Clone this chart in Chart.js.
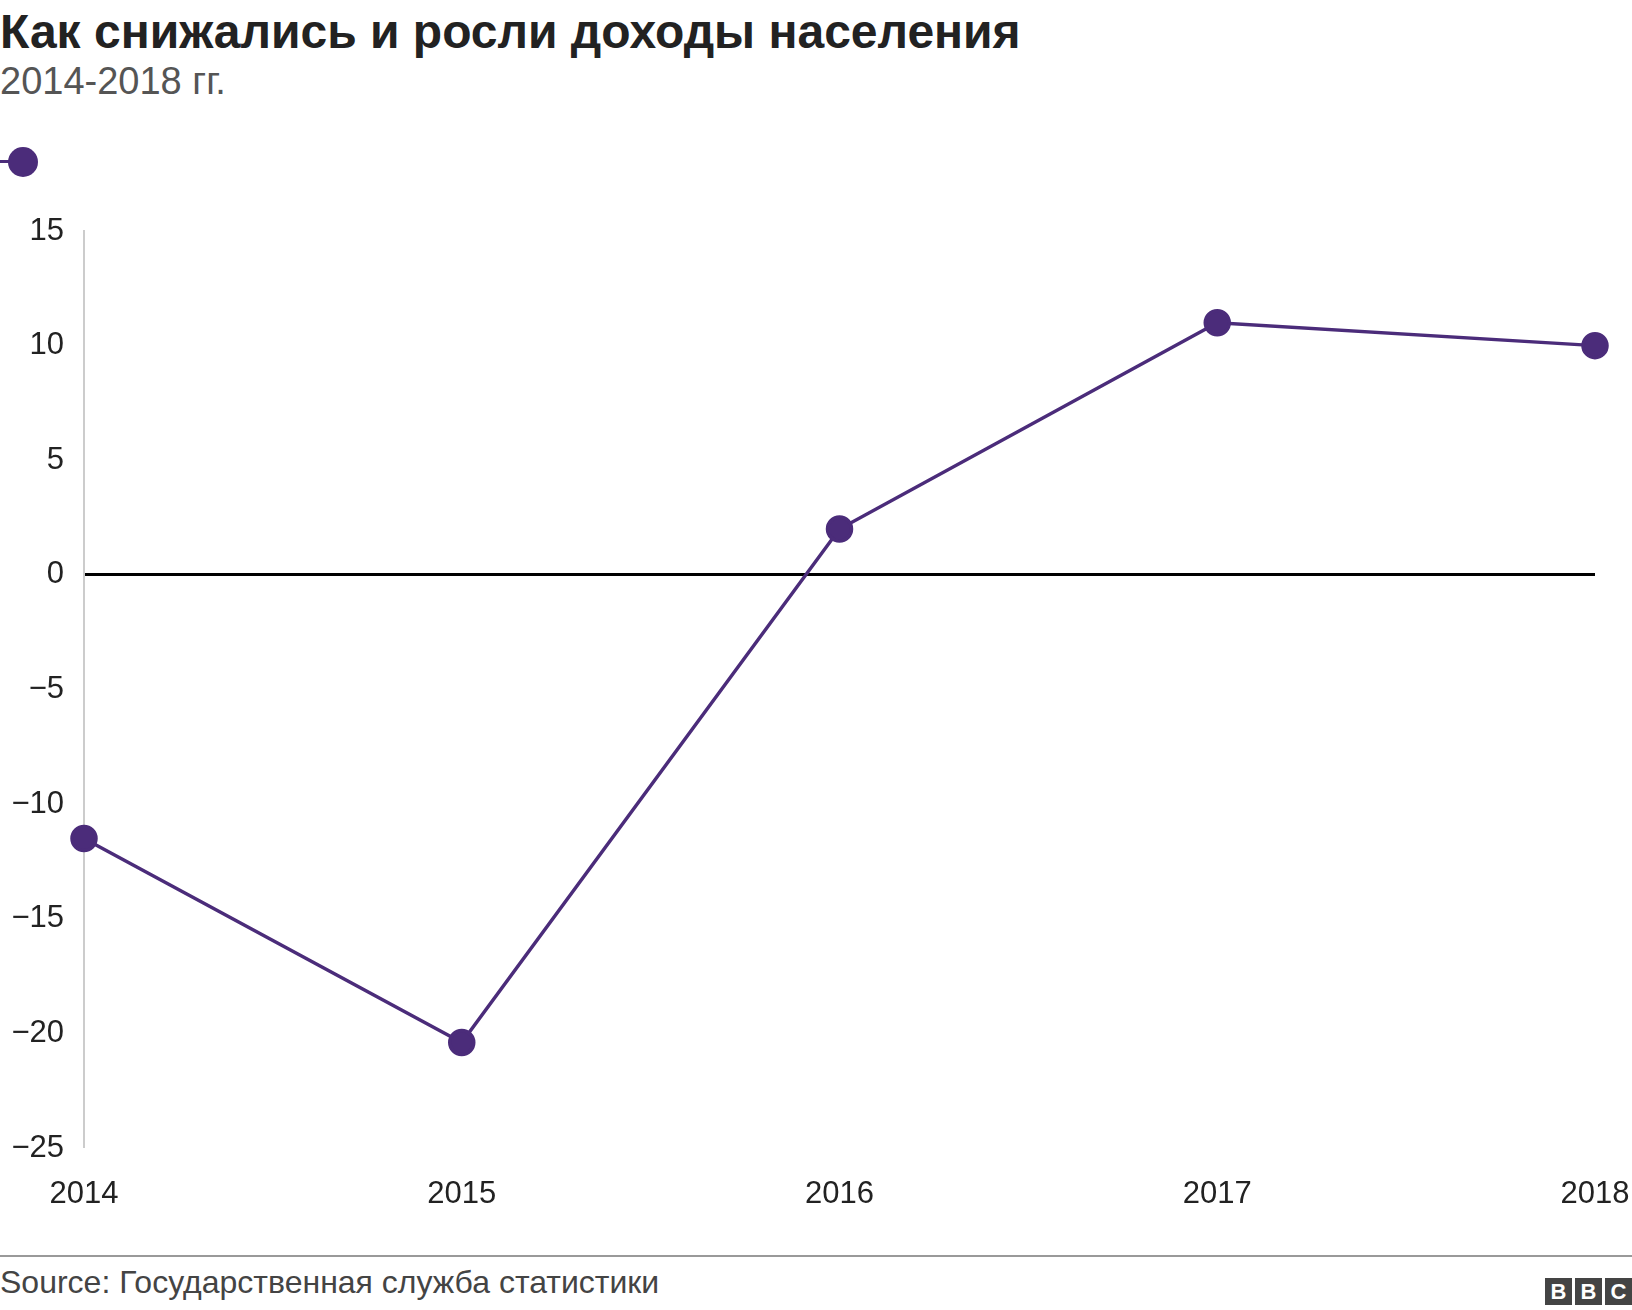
<!DOCTYPE html>
<html>
<head>
<meta charset="utf-8">
<script src="https://cdn.jsdelivr.net/npm/chart.js@4"></script>
<style>
  body { margin: 0; width: 1632px; height: 1310px; background: #fff; font-family: "Liberation Sans", Arial, sans-serif; position: relative; overflow: hidden; }
  #title { position: absolute; left: 0; top: 4px; font-size: 48px; font-weight: bold; color: #222; }
  #sub { position: absolute; left: 0; top: 60px; font-size: 38px; color: #555; }
  #legend { position: absolute; left: 0; top: 146px; width: 40px; height: 30px; }
  #legend .ln { position: absolute; left: 0; top: 14px; width: 20px; height: 3px; background: #4b2c7a; }
  #legend .dot { position: absolute; left: 8px; top: 1px; width: 30px; height: 30px; border-radius: 50%; background: #4b2c7a; }
  #foot { position: absolute; left: 0; right: 0; top: 1255px; border-top: 2px solid #999; }
  #src { position: absolute; left: 0; top: 1264px; font-size: 32px; color: #444; }
  #bbc { position: absolute; right: 0; top: 1278px; display: flex; gap: 3px; }
  #bbc span { width: 27px; height: 27px; background: #444; color: #fff; font-weight: bold; font-size: 22px; text-align: center; line-height: 27px; }
  canvas { position: absolute; left: 0; top: 0; }
</style>
</head>
<body>
<div id="title">Как снижались и росли доходы населения</div>
<div id="sub">2014-2018 гг.</div>
<div id="legend"><div class="ln"></div><div class="dot"></div></div>
<div id="foot"></div>
<div id="src">Source: Государственная служба статистики</div>
<div id="bbc"><span>B</span><span>B</span><span>C</span></div>
<canvas id="chart" width="1632" height="1310"></canvas>
<script>
const years = ['2014', '2015', '2016', '2017', '2018'];
const incomeChange = [-11.5, -20.4, 2.0, 11.0, 10.0];
const yTicks = [15, 10, 5, 0, -5, -10, -15, -20, -25];

const purple = '#4b2c7a';

new Chart(document.getElementById('chart'), {
  type: 'line',
  data: {
    labels: years,
    datasets: [{
      data: incomeChange,
      borderColor: purple,
      backgroundColor: purple,
      borderWidth: 3.5,
      pointRadius: 12,
      pointHoverRadius: 12,
      tension: 0,
    }],
  },
  options: {
    responsive: false,
    animation: false,
    layout: { padding: { top: 231, bottom: 102, right: 37, left: 0 } },
    plugins: { legend: { display: false }, tooltip: { enabled: false } },
    scales: {
      x: {
        offset: false,
        grid: { display: false },
        border: { display: false },
        ticks: { color: '#222', font: { size: 31, family: 'Liberation Sans' }, padding: 20, maxRotation: 0 },
        afterFit: (s) => { s.height = 60; s.paddingRight = 0; s.paddingLeft = 0; },
      },
      y: {
        min: -25,
        max: 15,
        afterBuildTicks: (s) => { s.ticks = yTicks.map((v) => ({ value: v })); },
        grid: {
          drawTicks: false,
          color: (c) => (c.tick && c.tick.value === 0 ? '#000' : 'rgba(0,0,0,0)'),
          lineWidth: (c) => (c.tick && c.tick.value === 0 ? 3 : 0),
        },
        border: { display: true, color: '#ccc', width: 2 },
        ticks: {
          color: '#222',
          font: { size: 31, family: 'Liberation Sans' },
          padding: 20,
          callback: (v) => String(v).replace('-', '\u2212'),
        },
        afterFit: (s) => { s.width = 84; },
      },
    },
  },
});
</script>
</body>
</html>
